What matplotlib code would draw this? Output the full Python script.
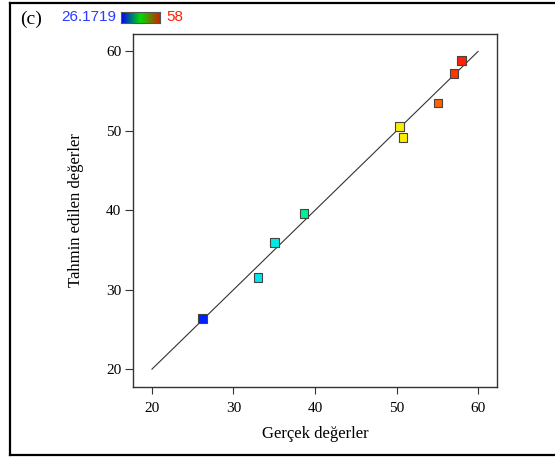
import matplotlib
matplotlib.use("Agg")
import matplotlib.pyplot as plt
import numpy as np
from matplotlib.colors import LinearSegmentedColormap
from matplotlib.lines import Line2D

actual = [26.17, 33.0, 35.0, 38.65, 50.4, 50.8, 55.1, 57.05, 58.0]
predicted = [26.4, 31.5, 35.9, 39.6, 50.6, 49.2, 53.5, 57.2, 58.9]
color_min = 26.1719
color_max = 58

x_ticks = [20, 30, 40, 50, 60]
y_ticks = [20, 30, 40, 50, 60]
ref_line = [20, 60]

SERIF = ["Liberation Serif", "DejaVu Serif"]
SANS = ["Liberation Sans", "DejaVu Sans"]

cmap = LinearSegmentedColormap.from_list(
    "de",
    [(0.0, "#0022ff"), (0.2, "#00e5ee"), (0.3, "#00eedd"), (0.42, "#00f07a"),
     (0.6, "#aaee00"), (0.78, "#ffee00"), (0.9, "#ff6a00"), (1.0, "#ff2200")],
)

fig = plt.figure(figsize=(5.55, 4.57), dpi=100)
W, H = 555, 457

ax = fig.add_axes([133 / W, 1 - 387 / H, (497 - 133) / W, (387 - 34) / H])

ax.plot(ref_line, ref_line, color="#333333", linewidth=0.8, zorder=1)
ax.scatter(
    actual,
    predicted,
    c=actual,
    cmap=cmap,
    vmin=color_min,
    vmax=color_max,
    marker="s",
    s=40,
    edgecolors="#444444",
    linewidths=0.8,
    zorder=3,
)

ax.set_xlim(17.67, 62.33)
ax.set_ylim(17.75, 62.2)
ax.set_xticks(x_ticks)
ax.set_yticks(y_ticks)
ax.tick_params(direction="out", width=0.8, color="#333333",
               top=False, right=False, labelsize=11)
ax.tick_params(axis="x", length=4.8, pad=6)
ax.tick_params(axis="y", length=6, pad=2.5)
for lab in ax.get_xticklabels() + ax.get_yticklabels():
    lab.set_family(SERIF)
for sp in ax.spines.values():
    sp.set_color("#333333")
    sp.set_linewidth(1.0)

ax.set_xlabel("Gerçek değerler", family=SERIF, fontsize=12, labelpad=8)
ax.set_ylabel("Tahmin edilen değerler", family=SERIF, fontsize=12)
ax.yaxis.set_label_coords(-0.135, 0.5)

# header: panel label and colour scale
fig.text(20 / W, 1 - 19 / H, "(c)", family=SERIF, fontsize=14, va="center")
fig.text(116 / W, 1 - 17 / H, f"{color_min}", family=SANS, fontsize=11,
         color="#2a3cff", va="center", ha="right")
fig.text(166 / W, 1 - 17 / H, f"{color_max}", family=SANS, fontsize=11,
         color="#ff2200", va="center", ha="left")
cax = fig.add_axes([121 / W, 1 - 23 / H, 39 / W, 11 / H])
cax.imshow(np.linspace(0, 1, 256)[None, :], aspect="auto",
           cmap=LinearSegmentedColormap.from_list("bar", ["#0000ff", "#00dd00", "#cc2200"]))
cax.set_xticks([])
cax.set_yticks([])
for sp in cax.spines.values():
    sp.set_color("#555555")
    sp.set_linewidth(0.8)

# outer frame
frame_kw = dict(color="black", linewidth=1.6, transform=fig.transFigure)
fig.add_artist(Line2D([9.5 / W, 9.5 / W], [1 - 3 / H, 1 - 455 / H], **frame_kw))
fig.add_artist(Line2D([9.5 / W, 1], [1 - 3 / H, 1 - 3 / H], **frame_kw))
fig.add_artist(Line2D([9.5 / W, 1], [1 - 455 / H, 1 - 455 / H], **frame_kw))

fig.savefig("out.png", dpi=100)
